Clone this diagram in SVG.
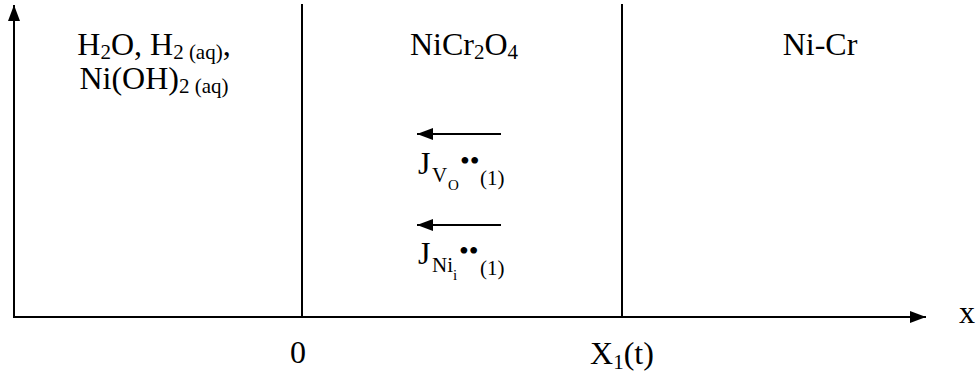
<svg xmlns="http://www.w3.org/2000/svg" width="978" height="374" viewBox="0 0 978 374">
<style>
text{font-family:"Liberation Serif","Times New Roman",serif;fill:#000;}
.m{font-size:32px;}
.s{font-size:21px;}
.ss{font-size:15px;}
.dt{font-size:28px;}
.ax{stroke:#000;stroke-width:2;fill:none;}
.bd{stroke:#000;stroke-width:2;fill:none;}
.fl{stroke:#000;stroke-width:1.8;fill:none;}
</style>
<defs>
<marker id="ah" viewBox="0 0 16 12" refX="16" refY="6" markerWidth="16" markerHeight="12" markerUnits="userSpaceOnUse" orient="auto">
<path d="M0,0 L16,6 L0,12 Z" fill="#000"/>
</marker>
</defs>
<rect width="978" height="374" fill="#fff"/>
<g id="connectors">
<line class="ax" x1="14" y1="318" x2="14" y2="5" marker-end="url(#ah)"/>
<line class="ax" x1="13" y1="317" x2="926" y2="317" marker-end="url(#ah)"/>
<line class="bd" x1="302" y1="4" x2="302" y2="317"/>
<line class="bd" x1="622" y1="4" x2="622" y2="317"/>
<line class="fl" x1="501" y1="134" x2="417" y2="134" marker-end="url(#ah)"/>
<line class="fl" x1="501" y1="225" x2="417" y2="225" marker-end="url(#ah)"/>
</g>
<g id="region-solution">
<text class="m" x="154" y="55" text-anchor="middle">H<tspan class="s" dy="4">2</tspan><tspan dy="-4">O, H</tspan><tspan class="s" dy="4">2 (aq)</tspan><tspan dy="-4">,</tspan></text>
<text class="m" x="154" y="89" text-anchor="middle">Ni(OH)<tspan class="s" dy="4">2 (aq)</tspan></text>
</g>
<g id="region-oxide">
<text class="m" x="464" y="55" text-anchor="middle">NiCr<tspan class="s" dy="4">2</tspan><tspan dy="-4">O</tspan><tspan class="s" dy="4">4</tspan></text>
</g>
<g id="region-alloy">
<text class="m" x="820" y="55" text-anchor="middle">Ni-Cr</text>
</g>
<g id="flux-vo">
<text x="418" y="174"><tspan class="m">J</tspan><tspan class="s" x="432" y="182">V</tspan><tspan class="ss" x="448" y="190">O</tspan><tspan class="dt" x="460" y="170">••</tspan><tspan class="s" x="480" y="185">(1)</tspan></text>
</g>
<g id="flux-ni">
<text x="418" y="264"><tspan class="m">J</tspan><tspan class="s" x="432" y="272">Ni</tspan><tspan class="ss" x="453" y="280">i</tspan><tspan class="dt" x="459" y="260">••</tspan><tspan class="s" x="480" y="275">(1)</tspan></text>
</g>
<g id="axis-labels">
<text class="m" x="967" y="323" text-anchor="middle">x</text>
<text class="m" x="298" y="363" text-anchor="middle">0</text>
<text class="m" x="622" y="364" text-anchor="middle">X<tspan class="s" dy="5">1</tspan><tspan dy="-5">(t)</tspan></text>
</g>
</svg>
